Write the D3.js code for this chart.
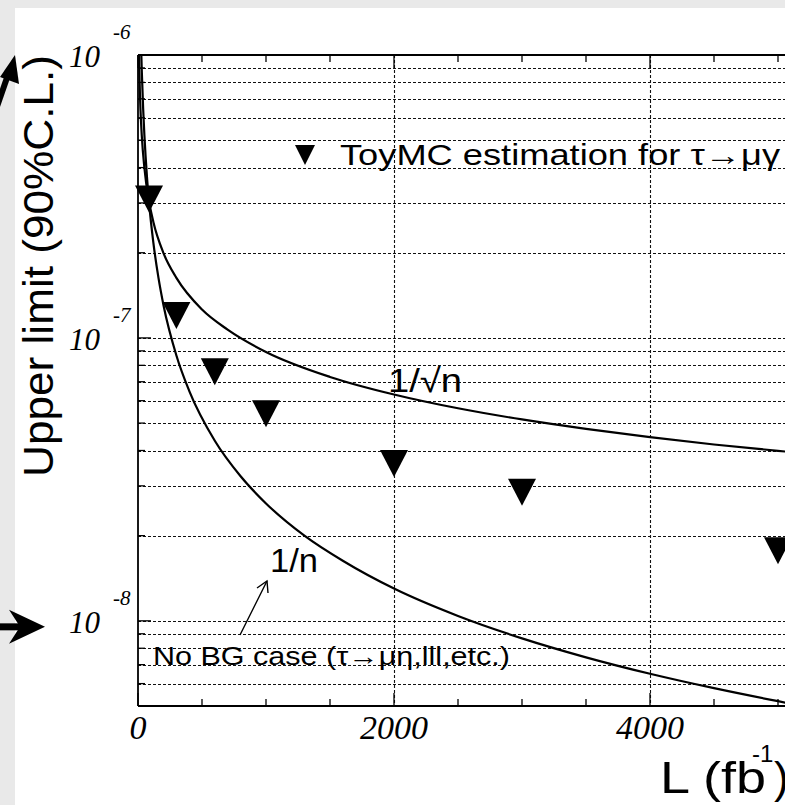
<!DOCTYPE html>
<html>
<head>
<meta charset="utf-8">
<script src="https://cdn.jsdelivr.net/npm/d3@7"></script>
<style>
  html, body { margin: 0; padding: 0; background: #e9e9e9; overflow: hidden; }
  svg { display: block; }
</style>
</head>
<body>
<svg id="chart" width="785" height="805"></svg>
<script>
// ToyMC points (L in fb^-1, 90% C.L. upper limit)
var toyL  = [86, 300, 600, 1000, 2000, 3000, 5000];
var toyUL = [3.1e-7, 1.2e-7, 7.6e-8, 5.4e-8, 3.6e-8, 2.85e-8, 1.77e-8];

// 1/n line
var invNL  = [26, 30, 40, 50, 70, 86, 120, 160, 200, 300, 400, 600, 800, 1000, 1300, 1600, 2000, 2500, 3000, 3500, 4000, 4500, 5000, 5300];
var invNUL = [1.0e-6, 8.67e-7, 6.5e-7, 5.2e-7, 3.71e-7, 3.02e-7, 2.17e-7, 1.63e-7, 1.3e-7, 8.67e-8, 6.5e-8, 4.33e-8, 3.25e-8, 2.6e-8, 2.0e-8, 1.63e-8, 1.3e-8, 1.04e-8, 8.67e-9, 7.43e-9, 6.5e-9, 5.78e-9, 5.2e-9, 4.9e-9];

// 1/sqrt(n) line
var invSqrtL  = [8, 10, 15, 20, 30, 50, 86, 120, 200, 300, 500, 700, 1000, 1500, 2000, 2500, 3000, 3500, 4000, 4500, 5000, 5300];
var invSqrtUL = [9.97e-7, 8.92e-7, 7.28e-7, 6.31e-7, 5.15e-7, 3.99e-7, 3.04e-7, 2.57e-7, 1.99e-7, 1.63e-7, 1.26e-7, 1.07e-7, 8.92e-8, 7.28e-8, 6.31e-8, 5.64e-8, 5.15e-8, 4.77e-8, 4.46e-8, 4.2e-8, 3.99e-8, 3.87e-8];

var xTickLabels = [0, 2000, 4000];
var yTickExps = [-6, -7, -8];

drawChart();

function drawChart() {
    var svg = d3.select("#chart");
    var W = 785, H = 805;
    var pLeft = 138, pTop = 55, pBottom = 706;

    var x = d3.scaleLinear().domain([0, 5200]).range([pLeft, pLeft + 5200 * 0.128]);
    var y = d3.scaleLog().domain([5e-9, 1e-6]).range([pBottom, pTop]);

    // page background: grey margin, white slide
    svg.append("rect").attr("x", 0).attr("y", 0).attr("width", W).attr("height", H).style("fill", "#e9e9e9");
    svg.append("rect").attr("x", 15).attr("y", 8).attr("width", W).attr("height", H).style("fill", "#ffffff");

    svg.append("defs").append("clipPath").attr("id", "plotClip")
        .append("rect").attr("x", pLeft).attr("y", pTop).attr("width", W).attr("height", pBottom - pTop);

    // grid values k*10^n inside the domain
    var gridVals = [];
    [-9, -8, -7].forEach(function (e) {
        for (var k = 1; k <= 9; k++) {
            var v = k * Math.pow(10, e);
            if (v > 5.01e-9 && v < 0.99e-6) gridVals.push(v);
        }
    });

    var grid = svg.append("g").attr("class", "grid")
        .style("stroke", "#111").style("stroke-width", 1.1).style("stroke-dasharray", "3,2");

    grid.selectAll(".hgrid").data(gridVals).enter().append("line")
        .attr("x1", pLeft).attr("x2", W)
        .attr("y1", function (d) { return Math.round(y(d)) + 0.5; })
        .attr("y2", function (d) { return Math.round(y(d)) + 0.5; });

    grid.selectAll(".vgrid").data([2000, 4000]).enter().append("line")
        .attr("y1", pTop).attr("y2", pBottom)
        .attr("x1", function (d) { return Math.round(x(d)) + 0.5; })
        .attr("x2", function (d) { return Math.round(x(d)) + 0.5; });

    // ticks
    var ticks = svg.append("g").style("stroke", "#000").style("stroke-width", 1.3);
    var xMinor = d3.range(0, 5201, 500);
    ticks.selectAll(".bt").data(xMinor).enter().append("line")
        .attr("x1", function (d) { return x(d); }).attr("x2", function (d) { return x(d); })
        .attr("y1", pBottom).attr("y2", function (d) { return d % 2000 === 0 ? pBottom - 13 : pBottom - 7; });
    ticks.selectAll(".tt").data(xMinor).enter().append("line")
        .attr("x1", function (d) { return x(d); }).attr("x2", function (d) { return x(d); })
        .attr("y1", pTop).attr("y2", function (d) { return d % 2000 === 0 ? pTop + 13 : pTop + 7; });
    ticks.selectAll(".lt").data(gridVals).enter().append("line")
        .attr("x1", pLeft).attr("x2", function (d) {
            var m = d / Math.pow(10, Math.floor(Math.log10(d) + 1e-9));
            return Math.abs(m - 1) < 1e-6 ? pLeft + 13 : pLeft + 7;
        })
        .attr("y1", function (d) { return y(d); }).attr("y2", function (d) { return y(d); });

    // frame
    var frame = svg.append("g").style("stroke", "#000").style("stroke-width", 1.8).style("fill", "none");
    frame.append("line").attr("x1", pLeft).attr("x2", pLeft).attr("y1", pTop).attr("y2", pBottom);
    frame.append("line").attr("x1", pLeft).attr("x2", W).attr("y1", pTop).attr("y2", pTop);
    frame.append("line").attr("x1", pLeft).attr("x2", W).attr("y1", pBottom).attr("y2", pBottom);

    // curves
    var plot = svg.append("g").attr("clip-path", "url(#plotClip)");
    var line = d3.line()
        .x(function (d) { return x(d[0]); })
        .y(function (d) { return y(d[1]); })
        .curve(d3.curveMonotoneX);

    plot.append("path")
        .attr("d", line(d3.zip(invNL, invNUL)))
        .style("fill", "none").style("stroke", "#000").style("stroke-width", 2.2);
    plot.append("path")
        .attr("d", line(d3.zip(invSqrtL, invSqrtUL)))
        .style("fill", "none").style("stroke", "#000").style("stroke-width", 2.2);

    function triPath(cx, cy, w, h) {
        return "M" + (cx - w / 2) + "," + (cy - h / 2) + "L" + (cx + w / 2) + "," + (cy - h / 2) + "L" + cx + "," + (cy + h / 2) + "Z";
    }

    svg.append("g").selectAll(".toy").data(d3.zip(toyL, toyUL)).enter().append("path")
        .attr("class", "toy")
        .attr("d", function (d) { return triPath(x(d[0]), y(d[1]), 28, 27); })
        .style("fill", "#000");

    // axis labels (Times italic)
    var serif = "'Liberation Serif', 'DejaVu Serif', serif";
    svg.append("g").selectAll(".xl").data(xTickLabels).enter().append("text")
        .attr("x", function (d) { return x(d); })
        .attr("y", 739)
        .attr("text-anchor", "middle")
        .style("font-family", serif).style("font-style", "italic").style("font-size", "34px")
        .text(function (d) { return d; });

    var yl = svg.append("g").selectAll(".yl").data(yTickExps).enter().append("g");
    yl.append("text")
        .attr("x", 100).attr("y", function (d) { return y(Math.pow(10, d)) + 12; })
        .attr("text-anchor", "end")
        .style("font-family", serif).style("font-style", "italic").style("font-size", "31px")
        .text("10");
    yl.append("text")
        .attr("x", 113).attr("y", function (d) { return y(Math.pow(10, d)) - 16; })
        .style("font-family", serif).style("font-style", "italic").style("font-size", "21px")
        .text(function (d) { return "-" + Math.abs(d); });

    var sans = "'Liberation Sans', Arial, Helvetica, sans-serif";

    svg.append("text")
        .attr("transform", "translate(53,477) rotate(-90)")
        .attr("textLength", 422).attr("lengthAdjust", "spacingAndGlyphs")
        .style("font-family", sans).style("font-size", "43px")
        .text("Upper limit (90%C.L.)");

    svg.append("text").attr("x", 660).attr("y", 793)
        .attr("textLength", 106).attr("lengthAdjust", "spacingAndGlyphs")
        .style("font-family", sans).style("font-size", "44px").text("L (fb");
    svg.append("text").attr("x", 752).attr("y", 762)
        .style("font-family", sans).style("font-size", "24px").text("-1");
    svg.append("text").attr("x", 774).attr("y", 793)
        .style("font-family", sans).style("font-size", "44px").text(")");

    // legend
    svg.append("path").attr("d", triPath(305, 155, 20, 20)).style("fill", "#000");
    svg.append("text").attr("x", 340).attr("y", 165)
        .attr("textLength", 440).attr("lengthAdjust", "spacingAndGlyphs")
        .style("font-family", sans).style("font-size", "29px")
        .text("ToyMC estimation for τ→μγ");

    // curve labels
    svg.append("text").attr("x", 388).attr("y", 392)
        .attr("textLength", 74).attr("lengthAdjust", "spacingAndGlyphs")
        .style("font-family", sans).style("font-size", "33px").text("1/√n");
    svg.append("text").attr("x", 270).attr("y", 572)
        .attr("textLength", 48).attr("lengthAdjust", "spacingAndGlyphs")
        .style("font-family", sans).style("font-size", "34px").text("1/n");

    svg.append("text").attr("x", 153).attr("y", 665)
        .attr("textLength", 357).attr("lengthAdjust", "spacingAndGlyphs")
        .style("font-family", sans).style("font-size", "25px")
        .text("No BG case (τ→μη,lll,etc.)");

    // small annotation arrow from the No BG text up to 1/n
    var ann = svg.append("g").style("stroke", "#000").style("stroke-width", 1.4).style("fill", "none");
    ann.append("line").attr("x1", 240).attr("y1", 635).attr("x2", 267).attr("y2", 581);
    ann.append("path").attr("d", "M257,588 L267,581 L268,593");

    // big arrows pointing at 10^-6 and 10^-8
    var y6 = y(1e-6), y8 = y(1e-8) + 6;
    svg.append("line").attr("x1", -6).attr("y1", y6 + 60).attr("x2", 9).attr("y2", y6 + 17)
        .style("stroke", "#000").style("stroke-width", 6);
    svg.append("path").attr("d", "M15," + y6 + " L0," + (y6 + 22) + " L19," + (y6 + 29) + " Z").style("fill", "#000");
    svg.append("line").attr("x1", 0).attr("y1", y8).attr("x2", 30).attr("y2", y8)
        .style("stroke", "#000").style("stroke-width", 7);
    svg.append("path").attr("d", "M45," + y8 + " L9," + (y8 - 17) + " L20," + y8 + " L9," + (y8 + 17) + " Z").style("fill", "#000");
}
</script>
</body>
</html>
